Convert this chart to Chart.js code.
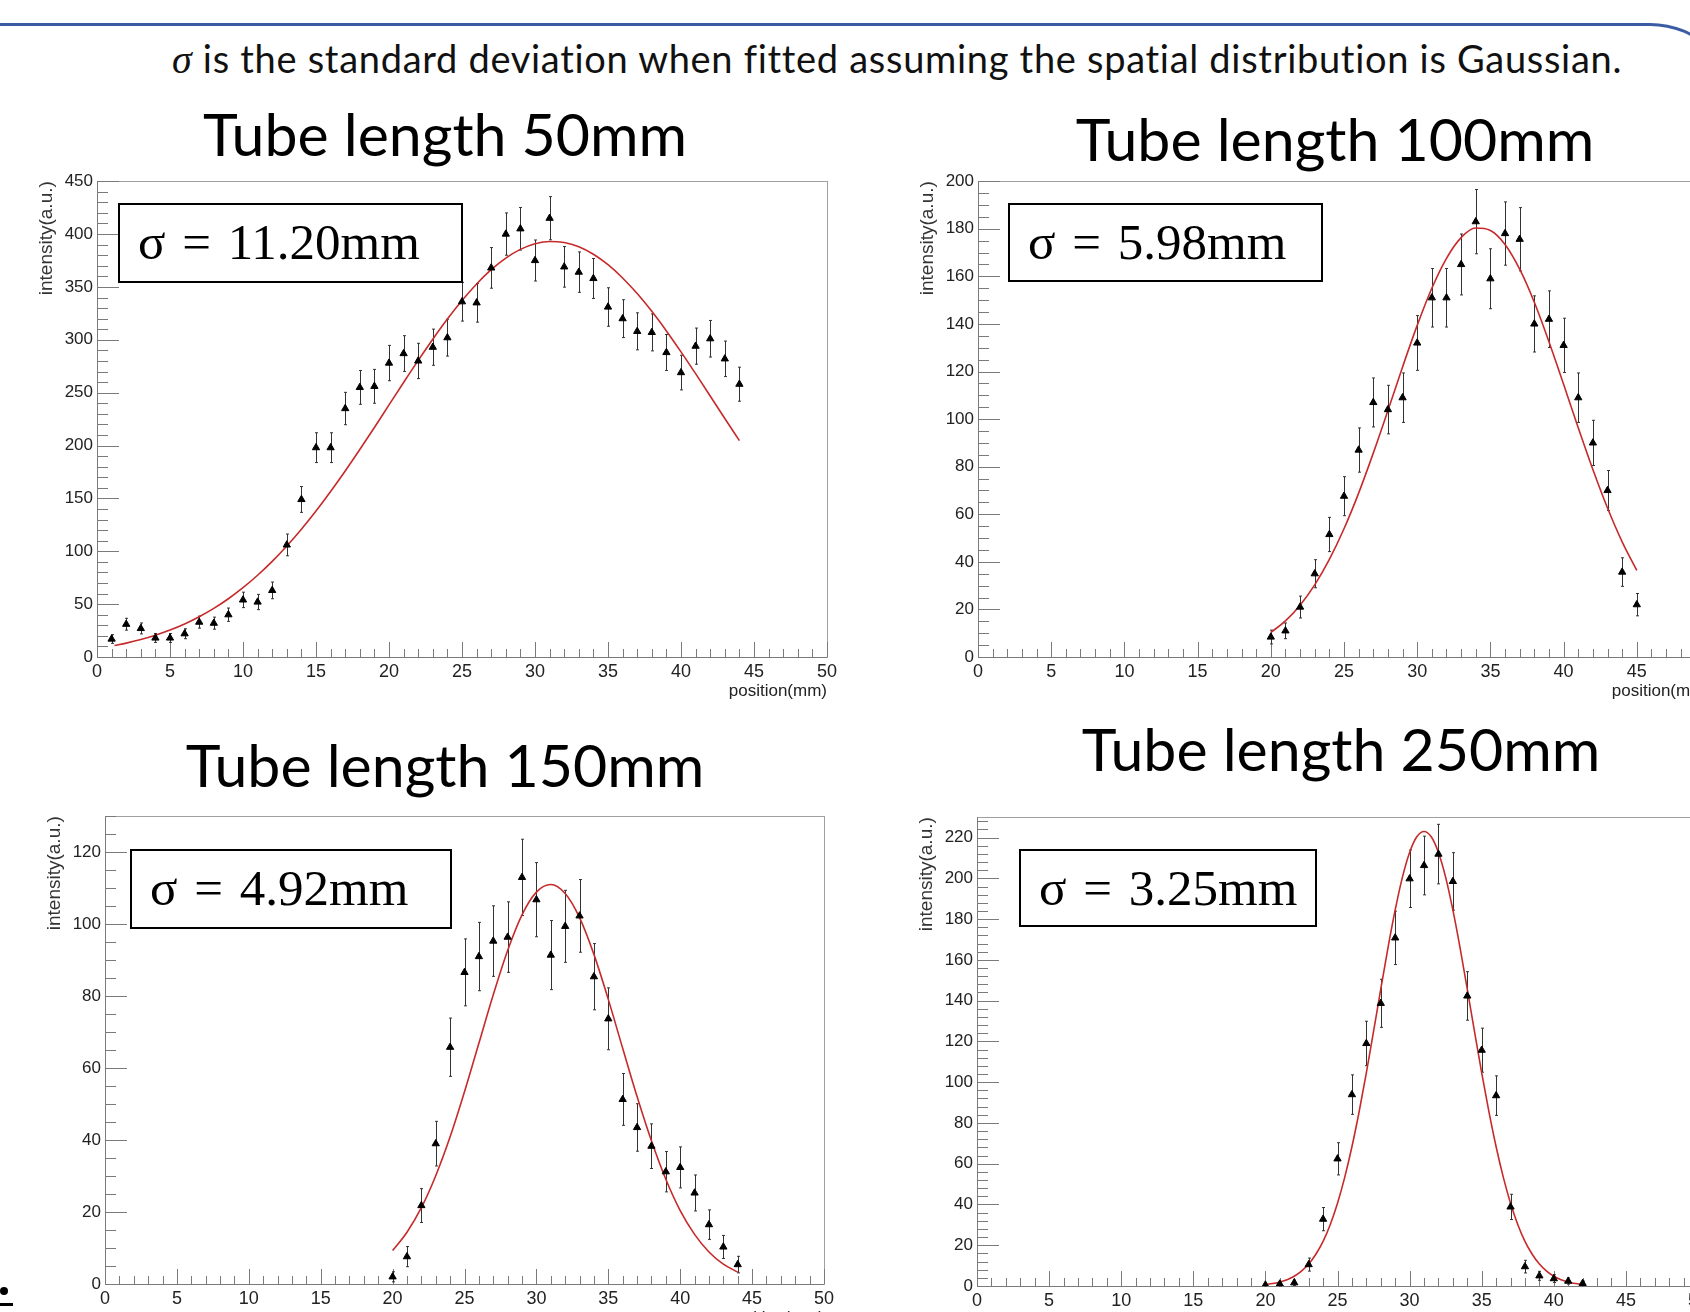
<!DOCTYPE html>
<html>
<head>
<meta charset="utf-8">
<script src="https://cdn.jsdelivr.net/npm/chart.js@4.4.1/dist/chart.umd.min.js"></script>
<style>
  html, body { margin: 0; padding: 0; background: #fff; }
  #page { position: relative; width: 1690px; height: 1312px; overflow: hidden; background: #fff; }
  .frame-line {
    position: absolute; left: -100px; top: 23px; width: 1840px; height: 600px;
    border-top: 3px solid #3b5ca3; border-right: 3px solid #3b5ca3;
    border-top-right-radius: 90px; box-sizing: border-box;
  }
  .note {
    position: absolute; left: 172px; top: 39px; white-space: nowrap; letter-spacing: 0.7px;
    font-family: Lato, "Open Sans", sans-serif; font-size: 38px; line-height: 38px; color: #111;
  }
  .note i { font-family: "Liberation Serif", serif; font-size: 40px; }
  .title {
    position: absolute; width: 700px; text-align: center; white-space: nowrap;
    font-family: Lato, "Open Sans", sans-serif; font-size: 59px; line-height: 59px; color: #000;
  }
  .sigma {
    position: absolute; border: 2px solid #000; box-sizing: border-box; background: #fff;
    font-family: "Liberation Serif", serif; font-size: 51px; line-height: 51px; color: #000;
    white-space: nowrap; word-spacing: 4px; z-index: 2;
  }
  .panel { position: absolute; }
  .dot { position: absolute; left: 0; top: 1287px; width: 8px; height: 8px; border-radius: 50%; background: #000; }
  .under { position: absolute; left: 0; top: 1303px; width: 13px; height: 3px; background: #000; }
</style>
</head>
<body>
<div id="page">
  <div class="frame-line"></div>
  <div class="note"><i>σ</i> is the standard deviation when fitted assuming the spatial distribution is Gaussian.</div>

  <div class="title" style="left:95px; top:104px;">Tube length 50mm</div>
  <div class="title" style="left:985px; top:109px;">Tube length 100mm</div>
  <div class="title" style="left:95px; top:735px;">Tube length 150mm</div>
  <div class="title" style="left:991px; top:719px;">Tube length 250mm</div>

  <div class="panel" style="left:17px; top:167px; width:835px; height:560px;"><canvas id="c50"></canvas></div>
  <div class="panel" style="left:898px; top:167px; width:837px; height:560px;"><canvas id="c100"></canvas></div>
  <div class="panel" style="left:25px; top:802px; width:824px; height:552px;"><canvas id="c150"></canvas></div>
  <div class="panel" style="left:897px; top:803px; width:826px; height:553px;"><canvas id="c250"></canvas></div>

  <div class="sigma" style="left:118px; top:203px; width:345px; height:80px; padding:12px 0 0 18px;">σ = 11.20mm</div>
  <div class="sigma" style="left:1008px; top:203px; width:315px; height:79px; padding:12px 0 0 18px;">σ = 5.98mm</div>
  <div class="sigma" style="left:130px; top:849px; width:322px; height:80px; padding:12px 0 0 18px;">σ = 4.92mm</div>
  <div class="sigma" style="left:1019px; top:849px; width:298px; height:78px; padding:12px 0 0 18px;">σ = 3.25mm</div>

  <div class="dot"></div>
  <div class="under"></div>
</div>

<script>
/* ── Data ──────────────────────────────────────────────────────────────── */

// Tube length 50mm
const pos50 = [1,2,3,4,5,6,7,8,9,10,11,12,13,14,15,16,17,18,19,20,21,22,
  23,24,25,26,27,28,29,30,31,32,33,34,35,36,37,38,39,40,41,42,43,44];
const val50 = [17,31,27,18,18,22,33,32,40,54,52,63,106,149,198,198,235,255,256,278,287,280,
  293,302,336,335,368,400,405,375,415,369,364,358,331,320,308,307,288,269,294,301,282,258];
const err50 = [4.1,5.6,5.2,4.2,4.2,4.7,5.7,5.7,6.3,7.3,7.2,7.9,10.3,12.2,14.1,14.1,15.3,16.0,16.0,16.7,16.9,16.7,
  17.1,17.4,18.3,18.3,19.2,20.0,20.1,19.4,20.4,19.2,19.1,18.9,18.2,17.9,17.5,17.5,17.0,16.4,17.1,17.3,16.8,16.1];
const fitX50 = [1.2,2,3,4,5,6,7,8,9,10,11,12,13,14,15,16,17,18,19,20,21,22,
  23,24,25,26,27,28,29,30,31,32,33,34,35,36,37,38,39,40,41,42,43,44];
const fitY50 = [10.9,13.1,16.5,20.6,25.5,31.3,38.1,46.0,55.1,65.5,77.3,90.4,105.0,120.9,138.1,156.5,175.9,196.2,217.1,238.4,259.6,280.5,
  300.6,319.6,337.1,352.8,366.3,377.3,385.5,390.8,393.0,392.0,388.0,380.9,371.0,358.5,343.7,326.9,308.4,288.6,268.0,246.9,225.6,204.6];

// Tube length 100mm
const pos100 = [20,21,22,23,24,25,26,27,28,29,30,31,32,33,34,35,36,37,38,39,40,41,42,43,44,45];
const val100 = [8.4,11,21,35,51.5,67.6,87,107,104,109,132,151,151,165,183,159,178,175.6,140,142,131,109,90,70,35.7,22];
const err100 = [2.9,3.3,4.6,5.9,7.2,8.2,9.3,10.3,10.2,10.4,11.5,12.3,12.3,12.8,13.5,12.6,13.3,13.3,11.8,11.9,11.4,10.4,9.5,8.4,6.0,4.7];
const fitY100 = [10.3,15.2,21.8,30.3,41.0,53.9,68.9,85.7,103.6,121.9,139.4,155.0,167.6,176.3,180.3,179.3,173.4,163.0,149.1,132.5,114.6,96.4,78.8,62.6,48.4,36.4];

// Tube length 150mm
const pos150 = [20,21,22,23,24,25,26,27,28,29,30,31,32,33,34,35,36,37,38,39,40,41,42,43,44];
const val150 = [2,7.6,21.8,39,65.8,86.6,91,95.3,96.4,113,106.8,91.4,99.4,102.3,85.4,73.7,51.3,43.5,38.3,31.2,32.4,25.3,16.5,10.3,5.4];
const err150 = [1.4,2.8,4.7,6.2,8.1,9.3,9.5,9.8,9.8,10.6,10.3,9.6,10.0,10.1,9.2,8.6,7.2,6.6,6.2,5.6,5.7,5.0,4.1,3.2,2.3];
const fitY150 = [9.3,14.4,21.2,30.1,40.9,53.4,66.9,80.4,92.7,102.6,108.9,111.0,108.5,101.8,91.6,79.1,65.5,52.1,39.8,29.1,20.4,13.8,8.9,5.5,3.3];

// Tube length 250mm
const pos250 = [20,21,22,23,24,25,26,27,28,29,30,31,32,33,34,35,36,37,38,39,40,41,42];
const val250 = [0.5,1,1.6,10.5,32.8,62.4,93.9,119,138.7,170.8,199.8,206.3,211.9,198.5,142.3,115.7,93.4,38.8,9.5,5,3.6,2.4,1.3];
const err250 = [0.7,1,1.3,3.2,5.7,7.9,9.7,10.9,11.8,13.1,14.1,14.4,14.6,14.1,11.9,10.8,9.7,6.2,3.1,2.2,1.9,1.5,1.1];
const fitX250 = [20,20.5,21,21.5,22,22.5,23,23.5,24,24.5,25,25.5,26,26.5,27,27.5,28,28.5,29,29.5,30,30.5,31,
  31.5,32,32.5,33,33.5,34,34.5,35,35.5,36,36.5,37,37.5,38,38.5,39,39.5,40,40.5,41,41.5,42];
const fitY250 = [0.7,1.2,2.0,3.1,4.8,7.3,10.8,15.6,21.9,30.2,40.6,53.3,68.3,85.5,104.6,124.9,145.6,165.9,184.5,200.5,212.7,220.4,223,
  220.4,212.7,200.5,184.5,165.9,145.6,124.9,104.6,85.5,68.3,53.3,40.6,30.2,21.9,15.6,10.8,7.3,4.8,3.1,2.0,1.2,0.7];

// Axis tick labels
const xLabels = [0,5,10,15,20,25,30,35,40,45,50];
const yLabels50 = [0,50,100,150,200,250,300,350,400,450];
const yLabels100 = [0,20,40,60,80,100,120,140,160,180,200];
const yLabels150 = [0,20,40,60,80,100,120];
const yLabels250 = [0,20,40,60,80,100,120,140,160,180,200,220];


/* ── ROOT-like frame: inner ticks, frame box, error bars ───────────────── */
const rootFrame = {
  id: "rootFrame",
  beforeDatasetsDraw(chart, args, o) {
    const { ctx, chartArea: a, scales: { x, y } } = chart;
    ctx.save();
    ctx.lineWidth = 1;

    // frame
    ctx.strokeStyle = "#a0a0a0";
    ctx.strokeRect(Math.round(a.left) + 0.5, Math.round(a.top) + 0.5,
      Math.round(a.right - a.left), Math.round(a.bottom - a.top));

    // axis lines
    ctx.strokeStyle = "#7a7a7a";
    ctx.beginPath();
    ctx.moveTo(Math.round(a.left) + 0.5, a.top);
    ctx.lineTo(Math.round(a.left) + 0.5, a.bottom);
    ctx.moveTo(a.left, Math.round(a.bottom) + 0.5);
    ctx.lineTo(a.right, Math.round(a.bottom) + 0.5);
    ctx.stroke();

    // x ticks (inside)
    ctx.beginPath();
    for (let v = x.min; v <= x.max + 1e-6; v += o.xMinor) {
      const px = Math.round(x.getPixelForValue(v)) + 0.5;
      const major = Math.abs(v / o.xMajor - Math.round(v / o.xMajor)) < 1e-6;
      ctx.moveTo(px, a.bottom);
      ctx.lineTo(px, a.bottom - (major ? 15 : 8));
    }
    // y ticks (inside)
    for (let v = y.min; v <= y.max + 1e-6; v += o.yMinor) {
      const py = Math.round(y.getPixelForValue(v)) + 0.5;
      const major = Math.abs(v / o.yMajor - Math.round(v / o.yMajor)) < 1e-6;
      ctx.moveTo(a.left, py);
      ctx.lineTo(a.left + (major ? 22 : 11), py);
    }
    ctx.stroke();

    // error bars
    const pts = chart.data.datasets[0].data;
    ctx.strokeStyle = "#333";
    ctx.beginPath();
    pts.forEach((p, i) => {
      const e = o.errors[i];
      const px = Math.round(x.getPixelForValue(p.x)) + 0.5;
      const y1 = y.getPixelForValue(p.y + e);
      const y2 = y.getPixelForValue(Math.max(p.y - e, 0));
      ctx.moveTo(px, y1);
      ctx.lineTo(px, y2);
      ctx.moveTo(px - 1.5, y1);
      ctx.lineTo(px + 1.5, y1);
      ctx.moveTo(px - 1.5, y2);
      ctx.lineTo(px + 1.5, y2);
    });
    ctx.stroke();
    ctx.restore();
  }
};


/* ── Panel factory ─────────────────────────────────────────────────────── */
const Y_W = 80, X_H = 70, PAD_T = 12, PAD_R = 25;
const tickFont = { family: '"Liberation Sans", Arial, sans-serif', size: 17 };

function makePanel(id, { pos, vals, errs, fitX, fitY, yMax, yLabels, yMajor, yMinor }) {
  const points = pos.map((x, i) => ({ x, y: vals[i] }));
  const fit = fitX.map((x, i) => ({ x, y: fitY[i] }));

  new Chart(document.getElementById(id), {
    type: "scatter",
    data: {
      datasets: [
        {
          data: points,
          pointStyle: "triangle",
          pointRadius: 4.2,
          backgroundColor: "#000",
          borderColor: "#000",
          borderWidth: 1,
          order: 0,
        },
        {
          data: fit,
          showLine: true,
          pointRadius: 0,
          borderColor: "#c62a2a",
          borderWidth: 1.6,
          cubicInterpolationMode: "monotone",
          order: 1,
        }
      ]
    },
    options: {
      responsive: true,
      maintainAspectRatio: false,
      animation: false,
      events: [],
      layout: { padding: { top: PAD_T, right: PAD_R, left: 0, bottom: 0 } },
      plugins: {
        legend: { display: false },
        tooltip: { enabled: false },
        rootFrame: { xMajor: 5, xMinor: 1, yMajor, yMinor, errors: errs },
      },
      scales: {
        x: {
          type: "linear",
          min: 0,
          max: 50,
          afterFit: (s) => { s.height = X_H; },
          afterBuildTicks: (s) => { s.ticks = xLabels.map((v) => ({ value: v })); },
          grid: { display: false, drawTicks: false },
          border: { display: false },
          ticks: { autoSkip: false, maxRotation: 0, padding: 4, color: "#222", font: { ...tickFont, size: 18 } },
          title: {
            display: true, text: "position(mm)", align: "end", color: "#222",
            font: { family: tickFont.family, size: 17 }, padding: { top: 0, bottom: 25 },
          },
        },
        y: {
          type: "linear",
          min: 0,
          max: yMax,
          afterFit: (s) => { s.width = Y_W; },
          afterBuildTicks: (s) => { s.ticks = yLabels.map((v) => ({ value: v })); },
          grid: { display: false, drawTicks: false },
          border: { display: false },
          ticks: { autoSkip: false, padding: 4, color: "#222", font: tickFont },
          title: {
            display: true, text: "intensity(a.u.)", align: "end", color: "#333",
            font: { family: tickFont.family, size: 19 }, padding: { top: 18, bottom: 0 },
          },
        }
      }
    },
    plugins: [rootFrame]
  });
}

makePanel("c50", { pos: pos50, vals: val50, errs: err50, fitX: fitX50, fitY: fitY50,
  yMax: 450, yLabels: yLabels50, yMajor: 50, yMinor: 10 });
makePanel("c100", { pos: pos100, vals: val100, errs: err100, fitX: pos100, fitY: fitY100,
  yMax: 200, yLabels: yLabels100, yMajor: 20, yMinor: 5 });
makePanel("c150", { pos: pos150, vals: val150, errs: err150, fitX: pos150, fitY: fitY150,
  yMax: 130, yLabels: yLabels150, yMajor: 20, yMinor: 5 });
makePanel("c250", { pos: pos250, vals: val250, errs: err250, fitX: fitX250, fitY: fitY250,
  yMax: 230, yLabels: yLabels250, yMajor: 20, yMinor: 4 });
</script>
</body>
</html>
